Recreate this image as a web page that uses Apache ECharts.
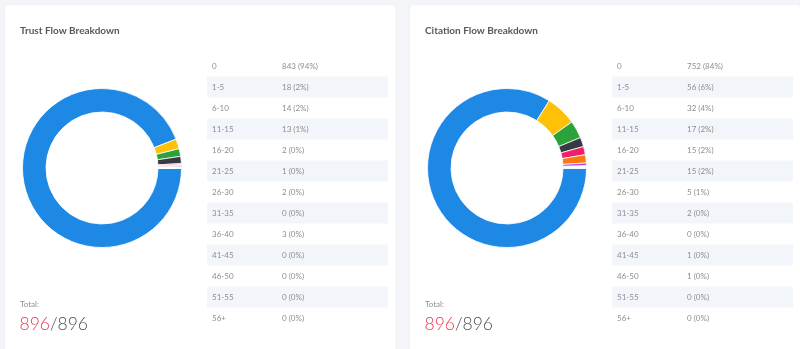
<!DOCTYPE html>
<html>
<head>
<meta charset="utf-8">
<script src="https://cdn.jsdelivr.net/npm/echarts@6/dist/echarts.min.js"></script>
<style>
html,body{margin:0;padding:0;background:#f3f5f9;}
#chart{width:800px;height:349px;}
</style>
</head>
<body>
<div id="chart"></div>
<script>
// ---- data ----
var categories = ['0','1-5','6-10','11-15','16-20','21-25','26-30','31-35','36-40','41-45','46-50','51-55','56+'];
var trustValues = [843,18,14,13,2,1,2,0,3,0,0,0,0];
var citationValues = [752,56,32,17,15,15,5,2,0,1,1,0,0];
var panelTitles = ['Trust Flow Breakdown','Citation Flow Breakdown'];
var totalLabel = 'Total:';
var palette = ['#1e88e5','#ffc107','#2aa43a','#363a42','#ef1f6a','#fb7a10','#b63ff0','#20c997','#7e57c2','#17a2b8','#795548','#9e9e9e','#607d8b'];

var chart = echarts.init(document.getElementById('chart'), null, {renderer:'canvas'});

var panels = [
  {values: trustValues, title: panelTitles[0], dx: 0},
  {values: citationValues, title: panelTitles[1], dx: 405}
];

var graphics = [];
var series = [];
var FONT = 'Lato, "Open Sans", sans-serif';

panels.forEach(function(p, pi){
  var dx = p.dx;
  var total = p.values.reduce(function(a,b){return a+b;},0);
  // card
  graphics.push({type:'rect', z:-10, shape:{x:5+dx, y:5, width:pi===0?390.5:390, height:360, r:4},
    style:{fill:'#ffffff', shadowBlur:3, shadowColor:'rgba(0,0,0,0.04)'}});
  // title
  graphics.push({type:'text', z:1, style:{text:p.title, x:20+dx, y:31, fill:'#55595f',
    font:'bold 10px '+FONT, verticalAlign:'middle'}});
  // table rows
  categories.forEach(function(c, i){
    var y = 66 + i*21;
    if (i % 2 === 1) {
      graphics.push({type:'rect', z:0, shape:{x:207+dx, y:y-10.5, width:181, height:21},
        style:{fill:'#f2f5fa'}});
    }
    graphics.push({type:'text', z:1, style:{text:c, x:212+dx, y:y, fill:'#8e8e8e',
      font:'8px '+FONT, verticalAlign:'middle'}});
    var v = p.values[i];
    graphics.push({type:'text', z:1, style:{text:v+' ('+Math.round(v/total*100)+'%)', x:282+dx, y:y, fill:'#8e8e8e',
      font:'8px '+FONT, verticalAlign:'middle'}});
  });
  // totals
  graphics.push({type:'text', z:1, style:{text:totalLabel, x:20+dx, y:304, fill:'#8e8e8e',
    font:'8px '+FONT, verticalAlign:'middle'}});
  graphics.push({type:'text', z:1, style:{text:'{a|'+total+'}{b|/'+total+'}', x:19.5+dx, y:324,
    verticalAlign:'middle',
    rich:{a:{fill:'#ea3a4f', font:'300 17.5px '+FONT}, b:{fill:'#4a4f56', font:'300 17.5px '+FONT}}}});

  series.push({
    type:'pie',
    center:[102+dx, 168],
    radius:[56, 79.5],
    startAngle:0,
    clockwise:true,
    silent:true,
    label:{show:false},
    labelLine:{show:false},
    itemStyle:{borderColor:'#ffffff', borderWidth:0.8},
    emphasis:{disabled:true},
    data: categories.map(function(c, i){
      return {name:c, value:p.values[i], itemStyle:{color:palette[i]}};
    })
  });
});

chart.setOption({
  animation:false,
  backgroundColor:'#f3f5f9',
  graphic:{elements:graphics},
  series:series
});
</script>
</body>
</html>
